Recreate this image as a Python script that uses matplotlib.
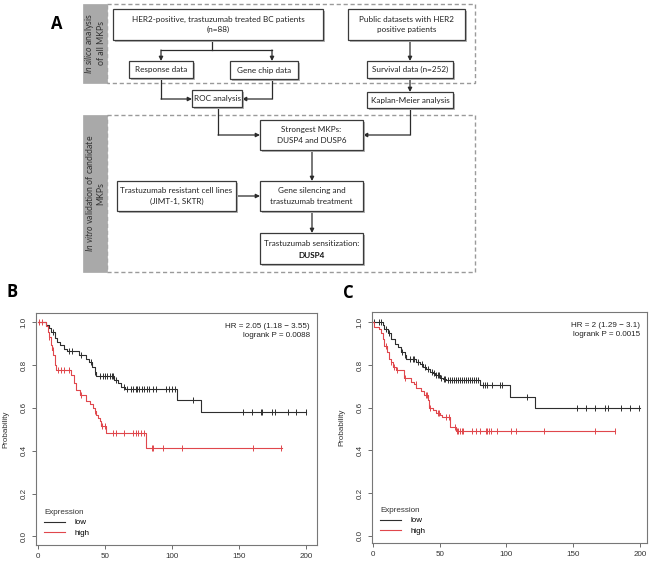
import numpy as np
import matplotlib
matplotlib.use("Agg")
import matplotlib.pyplot as plt
from matplotlib.patches import Rectangle

# ---------------- DATA ----------------
flow_box_texts = [
    "HER2-positive, trastuzumab treated BC patients\n(n=88)",
    "Public datasets with HER2\npositive patients",
    "Response data",
    "Gene chip data",
    "Survival data (n=252)",
    "ROC analysis",
    "Kaplan-Meier analysis",
    "Strongest MKPs:\nDUSP4 and DUSP6",
    "Trastuzumab resistant cell lines\n(JIMT-1, SKTR)",
    "Gene silencing and\ntrastuzumab treatment",
    "Trastuzumab sensitization:",
]
final_bold_text = "DUSP4"
side_label_top = r"$\it{In\ silico}$ analysis" + "\nof all MKPs"
side_label_bottom = r"$\it{In\ vitro}$ validation of candidate" + "\nMKPs"
panel_letters = ["A", "B", "C"]

x_ticks = [0, 50, 100, 150, 200]
y_ticks = [0.0, 0.2, 0.4, 0.6, 0.8, 1.0]
series_names = ["low", "high"]

# Panel B
b_low_t = [0, 6, 8.7, 10, 13.3, 14.5, 17, 19.5, 22, 30.7, 35.7, 38.2, 40.7, 42.5, 43.7, 57, 59.5, 62, 65, 103.5, 122]
b_low_s = [1.0, 0.986, 0.972, 0.955, 0.927, 0.908, 0.892, 0.874, 0.864, 0.845, 0.83, 0.815, 0.791, 0.768, 0.748, 0.73, 0.714, 0.698, 0.687, 0.637, 0.582]
b_low_end = 200
b_low_cens = [11.3, 23, 25.5, 32, 39.7, 42.7, 46.4, 48.9, 50.2, 51.4, 53.9, 55.1, 56.4, 58.5, 64.3, 66.8, 69.3, 71.3, 73,
              74.2, 75.7, 77.4, 79.2, 81.2, 82.9, 86.1, 88.1, 95.6, 98.1, 100.3, 102.5, 116, 153.2, 159.5, 166.2, 166.8,
              174.4, 176.8, 186.3, 192.2, 200]
b_high_t = [0, 6.5, 7.5, 8.4, 9.7, 11, 11.7, 12.7, 14, 25, 27, 28.7, 31.2, 36.2, 38.7, 41.2, 42.4, 43.7, 44.9, 46.2, 47.5, 51.1, 80.9]
b_high_s = [1.0, 0.98, 0.955, 0.932, 0.892, 0.87, 0.845, 0.798, 0.777, 0.755, 0.717, 0.684, 0.66, 0.631, 0.616, 0.6, 0.584,
            0.568, 0.553, 0.537, 0.514, 0.481, 0.414]
b_high_end = 182
b_high_cens = [1, 3.5, 8.7, 11.2, 15, 17.5, 20, 23.5, 32.4, 42.5, 48.2, 49.9, 56.1, 58.6, 64.3, 70.8, 73, 75, 77, 79.2,
               85.2, 85.8, 93.2, 107.3, 160.7, 181.3]
b_hr_text = "HR = 2.05 (1.18 \u2212 3.55)\nlogrank P = 0.0088"

# Panel C
c_low_t = [0, 7.5, 8.5, 11.3, 13.8, 16.3, 18.8, 21.3, 23.8, 25, 32.5, 35, 37.5, 40, 42.5, 45, 46.3, 50, 52.4, 55, 80, 102.8, 121.3]
c_low_s = [1.0, 0.986, 0.967, 0.95, 0.923, 0.9, 0.885, 0.861, 0.848, 0.83, 0.815, 0.805, 0.79, 0.78, 0.768, 0.763, 0.752,
           0.74, 0.735, 0.73, 0.705, 0.652, 0.597]
c_low_end = 200
c_low_cens = [0.7, 4.5, 5.8, 9.5, 12, 21.5, 24, 27.5, 29.8, 31, 34, 37, 39, 41.5, 44, 46, 47.5, 48.5, 49.5, 51, 53, 54,
              56.5, 58, 59.5, 61, 62.5, 64, 65.5, 66.4, 68, 69.5, 71, 72.5, 74, 75.5, 77, 78.9, 82.6, 83.9, 85.2, 89,
              95.1, 96.4, 115.6, 152.6, 159.6, 166, 174, 176.3, 185.7, 192.5, 199.2]
c_high_t = [0, 0.5, 4.7, 6, 7.3, 8.5, 10.8, 11.8, 13.2, 15.3, 17, 23.4, 28.6, 31.1, 32.4, 36.1, 38.6, 41, 42.3, 44.8, 47.3,
            50.5, 51.7, 57.8, 62.3]
c_high_s = [1.0, 0.98, 0.97, 0.95, 0.92, 0.89, 0.861, 0.83, 0.816, 0.79, 0.777, 0.737, 0.72, 0.71, 0.694, 0.68, 0.66,
            0.635, 0.6, 0.59, 0.574, 0.567, 0.556, 0.512, 0.49]
c_high_end = 181.3
c_high_cens = [9.5, 13.5, 15.8, 18, 24.2, 32, 39.5, 40.3, 42.8, 48.5, 49.8, 54.8, 56.8, 61.8, 62.7, 64, 65.2, 66.4, 67.1,
               73.9, 76.9, 79.9, 84.4, 85.6, 86.9, 88.1, 93.1, 103.1, 106.9, 128.1, 166.6, 181.3]
c_hr_text = "HR = 2 (1.29 \u2212 3.1)\nlogrank P = 0.0015"

# ---------------- LAYOUT / STYLE ----------------
plt.rcParams["mathtext.fontset"] = "custom"
plt.rcParams["mathtext.it"] = "Lato:italic"
plt.rcParams["mathtext.rm"] = "Lato"

W, H = 650, 581
fig = plt.figure(figsize=(6.5, 5.81), dpi=100)
fig.patch.set_facecolor("white")

FLOW_FONT = ["Lato", "DejaVu Sans"]
R_FONT = ["Liberation Sans", "DejaVu Sans"]
FS = 5.9

axf = fig.add_axes([0, 0, 1, 1])
axf.set_xlim(0, W)
axf.set_ylim(H, 0)
axf.axis("off")

# box geometry (x0, y0, x1, y1) in pixel coords, same order as flow_box_texts
box_geom = [
    (113, 9, 323, 40), (348, 9, 465, 40), (129, 61, 193, 78), (230, 61, 298, 79),
    (367, 61, 453, 78), (192, 90, 242, 107), (367, 92, 453, 108), (260, 120, 363, 150),
    (117, 181, 236, 211), (260, 181, 363, 211), (260, 233, 363, 264),
]
edge_c = "#3a3a3a"
line_c = "#2b2b2b"

# dashed group boxes and gray side bars
for (y0, y1), lbl in [((3.5, 83), side_label_top), ((115, 272), side_label_bottom)]:
    axf.add_patch(Rectangle((107, y0), 475 - 107, y1 - y0, fill=False, ec="#9a9a9a", lw=1.0,
                            ls=(0, (3, 2)), zorder=1))
    axf.add_patch(Rectangle((83, y0), 24, y1 - y0, fc="#a9a9a9", ec="#a9a9a9", lw=0.5, zorder=1))
    axf.text(94.5, (y0 + y1) / 2, lbl, rotation=90, ha="center", va="center", multialignment="center",
             fontsize=6.3, color="#333333", family=FLOW_FONT, linespacing=1.25, zorder=2)

# boxes
for i, ((x0, y0, x1, y1), txt) in enumerate(zip(box_geom, flow_box_texts)):
    axf.add_patch(Rectangle((x0 + 1.5, y0 + 1.5), x1 - x0, y1 - y0, fc="#b5b5b5", ec="none", zorder=3))
    axf.add_patch(Rectangle((x0, y0), x1 - x0, y1 - y0, fc="white", ec=edge_c, lw=0.9, zorder=4))
    if i == len(flow_box_texts) - 1:
        axf.text((x0 + x1) / 2, y0 + 10, txt, ha="center", va="center", fontsize=FS, family=FLOW_FONT,
                 color="#222222", zorder=5)
        axf.text((x0 + x1) / 2, y0 + 22.5, final_bold_text, ha="center", va="center", fontsize=FS,
                 family=FLOW_FONT, fontweight="bold", color="#111111", zorder=5)
    else:
        axf.text((x0 + x1) / 2, (y0 + y1) / 2, txt, ha="center", va="center", fontsize=FS, family=FLOW_FONT,
                 color="#222222", linespacing=1.6, zorder=5)


def connector(points):
    pts = list(points)
    if len(pts) > 2:
        xs, ys = zip(*pts[:-1])
        axf.plot(xs, ys, color=line_c, lw=0.9, zorder=2, solid_capstyle="butt")
    axf.annotate("", xy=pts[-1], xytext=pts[-2],
                 arrowprops=dict(arrowstyle="-|>", color=line_c, lw=0.9, mutation_scale=6,
                                 shrinkA=0, shrinkB=0), zorder=2)


axf.plot([212, 212], [40, 50], color=line_c, lw=0.9, zorder=2)
connector([(161, 50), (161, 61)])
axf.plot([161, 272], [50, 50], color=line_c, lw=0.9, zorder=2)
connector([(272, 50), (272, 61)])
connector([(410, 40), (410, 61)])
connector([(161, 78), (161, 99), (192, 99)])
connector([(272, 79), (272, 99), (242, 99)])
connector([(410, 78), (410, 92)])
connector([(218, 107), (218, 135), (260, 135)])
connector([(410, 108), (410, 135), (363, 135)])
connector([(312, 150), (312, 181)])
connector([(236, 196), (260, 196)])
connector([(312, 211), (312, 233)])

# panel letters
LET_FONT = ["Open Sans", "DejaVu Sans"]
axf.text(57, 24, panel_letters[0], ha="center", va="center", fontsize=12, fontweight="bold", family=LET_FONT)
axf.text(12, 292, panel_letters[1], ha="center", va="center", fontsize=12, fontweight="bold", family=LET_FONT)
axf.text(348, 293, panel_letters[2], ha="center", va="center", fontsize=12, fontweight="bold", family=LET_FONT)

# ---------------- KM panels ----------------
low_c = "#2e2e2e"
high_c = "#e0474c"


def km_panel(rect, xlim, ylim, low, high, hr_text):
    ax = fig.add_axes(rect)
    for (t, s, tend, cens), col in [(low, low_c), (high, high_c)]:
        tt = list(t) + [tend]
        ss = list(s) + [s[-1]]
        ax.step(tt, ss, where="post", color=col, lw=0.8)
        cens = np.asarray(cens)
        idx = np.searchsorted(np.asarray(t), cens, side="right") - 1
        cs = np.asarray(s)[idx]
        ax.plot(cens, cs, ls="none", marker="|", ms=5, mew=0.7, color=col)
    ax.set_xlim(*xlim)
    ax.set_ylim(*ylim)
    ax.set_xticks(x_ticks)
    ax.set_yticks(y_ticks)
    ax.set_yticklabels([f"{v:.1f}" for v in y_ticks], rotation=90, va="center")
    ax.tick_params(labelsize=5.8, length=3, width=0.6, color="#555555", labelcolor="#333333", pad=3)
    for lab in ax.get_xticklabels() + ax.get_yticklabels():
        lab.set_family(R_FONT)
    for sp in ax.spines.values():
        sp.set_color("#777777")
        sp.set_linewidth(0.8)
    ax.set_ylabel("Probability", fontsize=5.8, family=R_FONT, color="#333333", labelpad=8)
    ax.text(0.975, 0.955, hr_text, transform=ax.transAxes, ha="right", va="top", fontsize=5.8,
            family=R_FONT, color="#222222", linespacing=1.25)
    h1, = ax.plot([], [], color=low_c, lw=0.8)
    h2, = ax.plot([], [], color=high_c, lw=0.8)
    lg = ax.legend([h1, h2], series_names, title="Expression", loc="lower left", bbox_to_anchor=(0.0, 0.0),
                   frameon=False, title_fontsize=5.8, handlelength=2.6, handletextpad=1.2,
                   labelspacing=0.35, borderaxespad=0.6, alignment="left",
                   prop={"family": R_FONT, "size": 5.8})
    lg.get_title().set_family(R_FONT)
    lg.get_title().set_color("#333333")
    return ax


km_panel([36 / W, 1 - 545 / H, (317 - 36) / W, (545 - 313) / H], (-1.2, 208), (-0.04, 1.043),
         (b_low_t, b_low_s, b_low_end, b_low_cens), (b_high_t, b_high_s, b_high_end, b_high_cens), b_hr_text)
km_panel([372 / W, 1 - 543 / H, (646.7 - 372) / W, (543 - 312) / H], (-0.7, 205), (-0.033, 1.048),
         (c_low_t, c_low_s, c_low_end, c_low_cens), (c_high_t, c_high_s, c_high_end, c_high_cens), c_hr_text)

fig.savefig("out.png", dpi=100)
